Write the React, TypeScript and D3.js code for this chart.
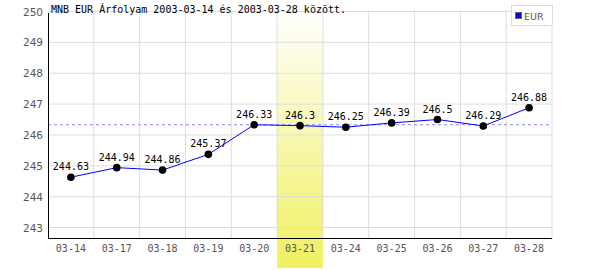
import React from "react";
import * as d3 from "d3";

const categories = ["03-14", "03-17", "03-18", "03-19", "03-20", "03-21", "03-24", "03-25", "03-26", "03-27", "03-28"];
const values = [244.63, 244.94, 244.86, 245.37, 246.33, 246.3, 246.25, 246.39, 246.5, 246.29, 246.88];
const yTicks = [243, 244, 245, 246, 247, 248, 249, 250];
const referenceValue = 246.33;
const highlighted = "03-21";
const title = "MNB EUR Árfolyam 2003-03-14 és 2003-03-28 között.";
const seriesName = "EUR";

export default function App() {
  const W = 600, H = 270;
  const left = 48, right = 552, bottomAxis = 238;
  const x = d3.scaleBand<string>().domain(categories).range([left, right]);
  const y = d3.scaleLinear().domain([243, 250]).range([227.5, 11.5]);
  const cx = (c: string) => (x(c) as number) + x.bandwidth() / 2;
  const line = d3.line<number>().x((_, i) => cx(categories[i])).y((v) => y(v));
  const mono = "'DejaVu Sans Mono', monospace";
  return (
    <svg width={W} height={H} style={{ position: "absolute", left: 0, top: 0 }}>
      <defs>
        <linearGradient id="hl" x1="0" y1="0" x2="0" y2="1">
          <stop offset="0" stopColor="#ffffff" />
          <stop offset="1" stopColor="#f0f060" />
        </linearGradient>
      </defs>
      <rect x={0} y={0} width={W} height={H} fill="#fff" />
      <rect x={x(highlighted)} y={9} width={x.bandwidth()} height={259} fill="url(#hl)" />
      {yTicks.map((t) => (
        <line key={"h" + t} x1={left} x2={right} y1={y(t)} y2={y(t)} stroke="#dddddd" />
      ))}
      {categories.map((c, i) => (
        <line key={"v" + c} x1={(x(c) as number) + x.bandwidth()} x2={(x(c) as number) + x.bandwidth()} y1={10} y2={bottomAxis} stroke="#dddddd" />
      ))}
      <line x1={left} x2={right} y1={y(referenceValue)} y2={y(referenceValue)} stroke="#8888ff" strokeDasharray="3,3" />
      <line x1={left + 0.5} x2={left + 0.5} y1={13} y2={bottomAxis} stroke="#000" />
      <line x1={left} x2={right} y1={bottomAxis + 0.5} y2={bottomAxis + 0.5} stroke="#000" />
      {yTicks.map((t) => (
        <text key={"yl" + t} x={43} y={y(t) + 4} textAnchor="end" fontFamily="'DejaVu Sans', sans-serif" fontSize={10.5} fill="#555">{t}</text>
      ))}
      {categories.map((c) => (
        <text key={"xl" + c} x={cx(c)} y={252} textAnchor="middle" fontFamily={mono} fontSize={10} fill="#555">{c}</text>
      ))}
      <path d={line(values) as string} fill="none" stroke="#0000ff" strokeWidth={1} />
      {values.map((v, i) => (
        <circle key={"p" + i} cx={cx(categories[i])} cy={y(v)} r={3.8} fill="#000" />
      ))}
      {values.map((v, i) => (
        <text key={"pl" + i} x={cx(categories[i])} y={y(v) - 7} textAnchor="middle" fontFamily={mono} fontSize={10} fill="#000">{String(v)}</text>
      ))}
      <text x={51} y={13} fontFamily={mono} fontSize={10} fill="#000">{title}</text>
      <rect x={511.5} y={5.5} width={41} height={20} fill="#fff" stroke="#dddddd" />
      <rect x={515.5} y={12.5} width={6} height={6} fill="#0000ff" stroke="#666" />
      <text x={524} y={19.5} fontFamily="'DejaVu Sans', sans-serif" fontSize={9.5} fill="#555">{seriesName}</text>
    </svg>
  );
}
